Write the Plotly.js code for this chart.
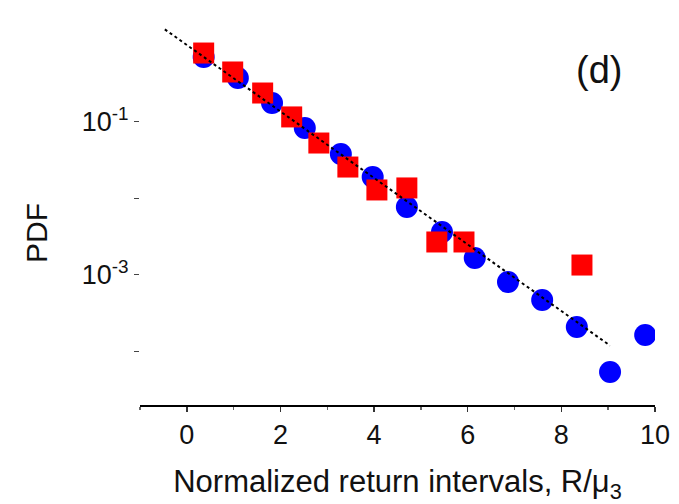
<!DOCTYPE html>
<html>
<head>
<meta charset="utf-8">
<script src="https://cdn.plot.ly/plotly-3.0.1.min.js"></script>
<style>html,body{margin:0;padding:0;background:#fff;}#chart{width:679px;height:504px;}</style>
</head>
<body>
<div id="chart"></div>
<script>
// Blue circles
const blueX = [0.36, 1.09, 1.82, 2.52, 3.29, 3.97, 4.70, 5.45, 6.15, 6.86, 7.59, 8.33, 9.04, 9.79];
const blueY = [0.697, 0.371, 0.175, 0.0824, 0.0378, 0.0189, 0.00767, 0.00361, 0.00166, 0.000805, 0.000469, 0.000208, 0.0000538, 0.000164];
// Red squares
const redX = [0.36, 0.98, 1.62, 2.24, 2.82, 3.44, 4.06, 4.70, 5.34, 5.92, 8.44];
const redY = [0.785, 0.444, 0.236, 0.115, 0.0525, 0.0255, 0.0128, 0.0136, 0.00268, 0.00268, 0.00134];
// Fitted exponential line (end points)
const fitX = [-0.47, 9.04];
const fitY = [1.6, 0.000119];
// Ticks
const xTickVals = [0, 2, 4, 6, 8, 10];
const yTickVals = [0.1, 0.01, 0.001, 0.0001];
const yTickText = ['10<sup>-1</sup>', '', '10<sup>-3</sup>', ''];

const font = 'Liberation Sans, Arial, Helvetica, sans-serif';

const traces = [
  {x: blueX, y: blueY, type: 'scatter', mode: 'markers',
   marker: {symbol: 'circle', size: 22, color: '#0000ff'}, hoverinfo: 'skip'},
  {x: redX, y: redY, type: 'scatter', mode: 'markers',
   marker: {symbol: 'square', size: 21, color: '#ff0000'}, hoverinfo: 'skip'},
  {x: fitX, y: fitY, type: 'scatter', mode: 'lines',
   line: {color: '#000', width: 2, dash: 'dot'}, hoverinfo: 'skip'}
];

const layout = {
  width: 679, height: 504,
  margin: {l: 140, r: 24, t: 22, b: 99},
  paper_bgcolor: '#fff', plot_bgcolor: '#fff',
  showlegend: false,
  font: {family: font, color: '#111', size: 27},
  xaxis: {
    range: [-1, 10], tickvals: xTickVals, ticks: 'outside', ticklen: 5, tickwidth: 1.5,
    tickcolor: '#333', showline: true, linewidth: 2, linecolor: '#000',
    showgrid: false, zeroline: false,
    minor: {dtick: 1, tick0: 1, ticks: 'outside', ticklen: 3, tickcolor: '#666', showgrid: false},
    tickfont: {size: 27, family: font, color: '#111'},
    title: {text: 'Normalized return intervals, R/μ<sub>3</sub>', font: {size: 31, family: font, color: '#111'}, standoff: 28}
  },
  yaxis: {
    type: 'log', range: [-4.7, 0.3], tickvals: yTickVals, ticktext: yTickText,
    ticks: 'outside', ticklen: 5, tickcolor: '#444', showline: false,
    showgrid: false, zeroline: false,
    tickfont: {size: 27, family: font, color: '#111'}
  },
  xaxis2: {
    overlaying: 'x', side: 'top', range: [-1, 10], tickvals: xTickVals,
    ticks: 'inside', ticklen: 6, tickcolor: '#555', showticklabels: false,
    showline: false, showgrid: false, zeroline: false
  },
  yaxis2: {
    overlaying: 'y', side: 'right', type: 'log', range: [-4.7, 0.3], tickvals: yTickVals,
    ticks: 'inside', ticklen: 5, tickcolor: '#555', showticklabels: false,
    showline: false, showgrid: false, zeroline: false
  },
  annotations: [
    {xref: 'paper', yref: 'paper', x: 0.891, y: 0.875, text: '(d)', showarrow: false,
     font: {size: 38, family: font, color: '#111'}, xanchor: 'center', yanchor: 'middle'},
    {xref: 'paper', yref: 'paper', x: -0.202, y: 0.449, text: 'PDF', textangle: -90, showarrow: false,
     font: {size: 30, family: font, color: '#111'}, xanchor: 'center', yanchor: 'middle'}
  ]
};

Plotly.newPlot('chart', traces, layout, {staticPlot: true, displayModeBar: false});
</script>
</body>
</html>
